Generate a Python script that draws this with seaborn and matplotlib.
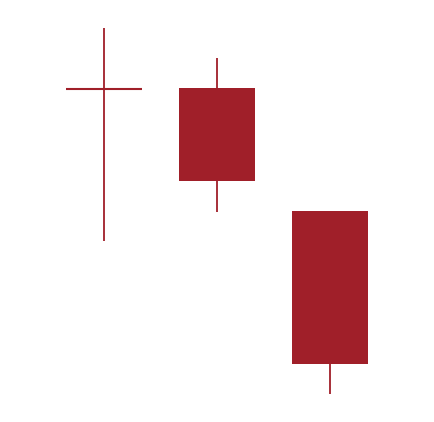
import matplotlib
matplotlib.use("Agg")
import matplotlib.pyplot as plt
import seaborn as sns
import numpy as np

# Candle data (arbitrary price units)
periods = [0, 1, 2]
opens = [333, 334, 211]
closes = [333, 241, 58]
highs = [394, 364, 211]
lows = [181, 210, 28]

color = "#A01F29"

sns.set_style("white")
fig = plt.figure(figsize=(4.34, 4.22), dpi=100)
ax = fig.add_axes([0, 0, 1, 1])

width = 0.664
for x, o, c, h, l in zip(periods, opens, closes, highs, lows):
    ax.vlines(x, l, h, color=color, lw=1.3, zorder=1)
    bottom = min(o, c)
    height = abs(o - c)
    if height == 0:
        ax.hlines(o, x - width / 2, x + width / 2, color=color, lw=1.5, zorder=2)
    else:
        ax.bar(x, height, bottom=bottom, width=width, color=color, linewidth=0, zorder=2)

ax.set_xlim(-0.92, 2.92)
ax.set_ylim(0, 422)
ax.axis("off")
sns.despine(ax=ax, left=True, bottom=True)
fig.savefig("out.png", dpi=100, facecolor="white")
